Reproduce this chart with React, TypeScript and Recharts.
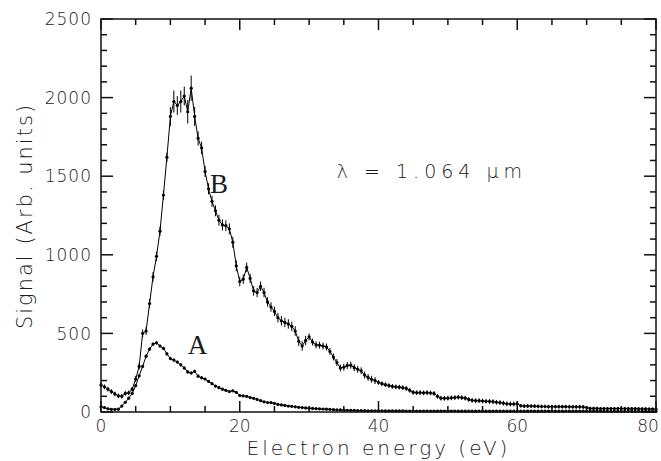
import { LineChart, Line, XAxis, YAxis, ErrorBar, ReferenceDot } from "recharts";

// signal in arb. units, sampled every 0.5 eV from 0 to 80 eV
const signalB = [
  172, 160, 145, 130, 115, 102, 100, 118, 122, 145,
  210, 290, 500, 515, 690, 860, 990, 1150, 1380, 1620,
  1880, 1975, 1950, 1975, 2010, 1910, 2060, 1880, 1740, 1680,
  1530, 1420, 1340, 1280, 1220, 1190, 1185, 1165, 1080, 930,
  830, 845, 920, 850, 770, 760, 800, 760, 700, 668,
  640, 600, 580, 570, 560, 545, 515, 450, 420, 455,
  478, 445, 427, 425, 420, 414, 385, 350, 315, 280,
  285, 296, 298, 282, 272, 262, 235, 220, 208, 200,
  188, 180, 174, 168, 163, 160, 158, 155, 150, 138,
  125, 123, 123, 122, 123, 121, 118, 100, 88, 87,
  88, 90, 92, 94, 92, 88, 80, 74, 72, 72,
  70, 68, 67, 66, 62, 60, 56, 52, 51, 51,
  52, 40, 38, 38, 38, 37, 36, 35, 35, 34,
  34, 34, 34, 34, 34, 33, 33, 33, 33, 32,
  28, 23, 23, 23, 22, 22, 22, 22, 22, 22,
  22, 22, 21, 21, 21, 20, 20, 20, 19, 19,
  18,
];

const errB = [
  15, 15, 15, 15, 15, 15, 15, 15, 15, 15,
  20, 20, 25, 25, 30, 30, 30, 30, 30, 30,
  60, 70, 60, 70, 60, 75, 80, 60, 45, 40,
  35, 35, 35, 35, 35, 35, 35, 35, 35, 35,
  30, 30, 30, 30, 30, 30, 30, 30, 30, 30,
  30, 30, 30, 30, 30, 30, 30, 30, 30, 30,
  22, 22, 22, 22, 22, 22, 22, 22, 22, 22,
  22, 22, 22, 22, 22, 22, 22, 22, 22, 22,
  15, 15, 15, 15, 15, 15, 15, 15, 15, 15,
  15, 15, 15, 15, 15, 15, 15, 15, 15, 15,
  15, 15, 15, 15, 15, 15, 15, 15, 15, 15,
  15, 15, 15, 15, 15, 15, 15, 15, 15, 15,
  12, 12, 12, 12, 12, 12, 12, 12, 12, 12,
  12, 12, 12, 12, 12, 12, 12, 12, 12, 12,
  10, 10, 10, 10, 10, 10, 10, 10, 10, 10,
  10, 10, 10, 10, 10, 10, 10, 10, 10, 10,
  10,
];

const signalA = [
  34, 28, 20, 17, 17, 18, 38, 62, 88, 118,
  168, 230, 290, 355, 400, 432, 440, 420, 405, 370,
  340, 330, 318, 300, 280, 255, 248, 258, 228, 218,
  210, 195, 180, 165, 155, 145, 138, 130, 135, 125,
  105, 102, 100, 92, 87, 80, 72, 65, 60, 60,
  55, 48, 45, 42, 38, 36, 33, 30, 28, 26,
  24, 23, 21, 20, 19, 18, 17, 15, 14, 13,
  12, 11, 10, 10, 9, 9, 9, 8, 8, 8,
  8, 8, 7, 7, 7, 7, 7, 7, 6, 6,
  6, 6, 6, 6, 6, 6, 6, 6, 6, 6,
  6, 6, 6, 5, 5, 5, 5, 5, 5, 5,
  5, 5, 5, 5, 5, 5, 5, 5, 5, 5,
  5, 5, 5, 5, 5, 5, 5, 5, 5, 5,
  5, 5, 5, 5, 5, 5, 5, 5, 5, 5,
  5, 5, 5, 5, 5, 4, 4, 4, 4, 4,
  4, 4, 4, 4, 4, 4, 4, 4, 4, 4,
  4,
];

const errA = [
  8, 8, 8, 8, 8, 8, 8, 8, 8, 8,
  10, 10, 10, 10, 10, 10, 10, 10, 10, 10,
  10, 10, 10, 10, 10, 10, 10, 10, 10, 10,
  8, 8, 8, 8, 8, 8, 8, 8, 8, 8,
  6, 6, 6, 6, 6, 6, 6, 6, 6, 6,
  6, 6, 6, 6, 6, 6, 6, 6, 6, 6,
  4, 4, 4, 4, 4, 4, 4, 4, 4, 4,
  4, 4, 4, 4, 4, 4, 4, 4, 4, 4,
  4, 4, 4, 4, 4, 4, 4, 4, 4, 4,
  4, 4, 4, 4, 4, 4, 4, 4, 4, 4,
  4, 4, 4, 4, 4, 4, 4, 4, 4, 4,
  4, 4, 4, 4, 4, 4, 4, 4, 4, 4,
  4, 4, 4, 4, 4, 4, 4, 4, 4, 4,
  4, 4, 4, 4, 4, 4, 4, 4, 4, 4,
  4, 4, 4, 4, 4, 4, 4, 4, 4, 4,
  4, 4, 4, 4, 4, 4, 4, 4, 4, 4,
  4,
];

const energy = signalB.map((_, i) => i * 0.5);

const xTicks = [0, 5, 10, 15, 20, 25, 30, 35, 40, 45, 50, 55, 60, 65, 70, 75, 80];
const xLabels = [0, 20, 40, 60, 80];
const yTicks = [
  0, 100, 200, 300, 400, 500, 600, 700, 800, 900, 1000, 1100, 1200,
  1300, 1400, 1500, 1600, 1700, 1800, 1900, 2000, 2100, 2200, 2300, 2400, 2500,
];
const yLabels = [0, 500, 1000, 1500, 2000, 2500];

const data = energy.map((e, i) => ({
  energy: e,
  b: signalB[i],
  bErr: errB[i],
  a: signalA[i],
  aErr: errA[i],
}));

const font = "'DejaVu Sans', sans-serif";
const ink = "#1a1a1a";

// plot box: YAxis width 101 on the left, 5px right axis, 19px top axis, 49px x axis
const box = { left: 101, right: 656, top: 19, bottom: 412 };
const sx = (v: number) => box.left + (v / 80) * (box.right - box.left);
const sy = (v: number) => box.bottom - (v / 2500) * (box.bottom - box.top);

function BottomLabel(props: any) {
  const { x, y, payload } = props;
  if (!xLabels.includes(payload.value)) return <g />;
  return (
    <text x={Math.min(x, 648)} y={y + 20} textAnchor="middle" fontFamily={font} fontWeight={200} fontSize={17} fill={ink}>
      {payload.value}
    </text>
  );
}

function LeftLabel(props: any) {
  const { x, y, payload } = props;
  if (!yLabels.includes(payload.value)) return <g />;
  return (
    <text x={x - 9} y={y} dy="0.36em" textAnchor="end" fontFamily={font} fontWeight={200} fontSize={17} letterSpacing={1} fill={ink}>
      {payload.value}
    </text>
  );
}

function Frame() {
  return (
    <svg width={661} height={461} style={{ position: "absolute", left: 0, top: 0, pointerEvents: "none" }}>
      <rect
        x={box.left}
        y={box.top}
        width={box.right - box.left}
        height={box.bottom - box.top}
        fill="none"
        stroke="#111"
        strokeWidth={1.5}
      />
      {xTicks.map((v) => {
        const len = xLabels.includes(v) ? 11 : 6;
        return (
          <g key={"x" + v}>
            <line x1={sx(v)} x2={sx(v)} y1={box.bottom} y2={box.bottom - len} stroke="#111" strokeWidth={1.5} />
            <line x1={sx(v)} x2={sx(v)} y1={box.top} y2={box.top + len} stroke="#111" strokeWidth={1.5} />
          </g>
        );
      })}
      {yTicks.map((v) => {
        const len = yLabels.includes(v) ? 12 : 6;
        return (
          <g key={"y" + v}>
            <line x1={box.left} x2={box.left + len} y1={sy(v)} y2={sy(v)} stroke="#111" strokeWidth={1.5} />
            <line x1={box.right} x2={box.right - len} y1={sy(v)} y2={sy(v)} stroke="#111" strokeWidth={1.5} />
          </g>
        );
      })}
    </svg>
  );
}

export default function App() {
  return (
    <div style={{ position: "absolute", left: 0, top: 0, width: 661, height: 461 }}>
      <LineChart width={661} height={461} data={data} margin={{ top: 0, right: 0, bottom: 0, left: 0 }}>
        <XAxis
          dataKey="energy"
          type="number"
          domain={[0, 80]}
          ticks={xTicks}
          interval={0}
          height={49}
          tickSize={0}
          tickMargin={0}
          tickLine={false}
          axisLine={false}
          tick={BottomLabel}
          label={{
            value: "Electron energy (eV)",
            position: "insideBottom",
            offset: 6,
            style: { fontFamily: font, fontWeight: 200, fontSize: 20, letterSpacing: 3, fill: ink },
          }}
        />
        <XAxis
          xAxisId="top"
          dataKey="energy"
          type="number"
          orientation="top"
          domain={[0, 80]}
          ticks={xTicks}
          interval={0}
          height={19}
          tickLine={false}
          axisLine={false}
          tick={false}
        />
        <YAxis
          type="number"
          domain={[0, 2500]}
          ticks={yTicks}
          interval={0}
          width={101}
          tickSize={0}
          tickMargin={0}
          tickLine={false}
          axisLine={false}
          tick={LeftLabel}
        />
        <YAxis
          yAxisId="right"
          type="number"
          orientation="right"
          domain={[0, 2500]}
          ticks={yTicks}
          interval={0}
          width={5}
          tickLine={false}
          axisLine={false}
          tick={false}
        />
        <Line
          dataKey="b"
          type="linear"
          stroke="#000"
          strokeWidth={1}
          dot={{ r: 1.6, fill: "#000", stroke: "none" }}
          isAnimationActive={false}
        >
          <ErrorBar dataKey="bErr" direction="y" width={0} stroke="#000" strokeWidth={1} />
        </Line>
        <Line
          dataKey="a"
          xAxisId="top"
          yAxisId="right"
          type="linear"
          stroke="#000"
          strokeWidth={1}
          dot={{ r: 1.6, fill: "#000", stroke: "none" }}
          isAnimationActive={false}
        >
          <ErrorBar dataKey="aErr" direction="y" width={0} stroke="#000" strokeWidth={1} />
        </Line>
        <ReferenceDot
          x={17}
          y={1457}
          r={0}
          fill="none"
          stroke="none"
          label={{ value: "B", position: "center", style: { fontFamily: "'Liberation Serif', serif", fontSize: 27, fill: ink } }}
        />
        <ReferenceDot
          x={13.9}
          y={433}
          r={0}
          fill="none"
          stroke="none"
          label={{ value: "A", position: "center", style: { fontFamily: "'Liberation Serif', serif", fontSize: 27, fill: ink } }}
        />
        <ReferenceDot
          x={47.7}
          y={1530}
          r={0}
          fill="none"
          stroke="none"
          label={{
            value: "λ  =  1.064  μm",
            position: "center",
            style: { fontFamily: font, fontWeight: 200, fontSize: 19, letterSpacing: 5, fill: ink, whiteSpace: "pre" },
          }}
        />
      </LineChart>
      <Frame />
      <div
        style={{
          position: "absolute",
          left: 25,
          top: 216,
          transform: "translate(-50%, -50%) rotate(-90deg)",
          whiteSpace: "nowrap",
          fontFamily: font,
          fontWeight: 200,
          fontSize: 21,
          letterSpacing: 2,
          color: ink,
          lineHeight: 1,
        }}
      >
        Signal (Arb. units)
      </div>
    </div>
  );
}
